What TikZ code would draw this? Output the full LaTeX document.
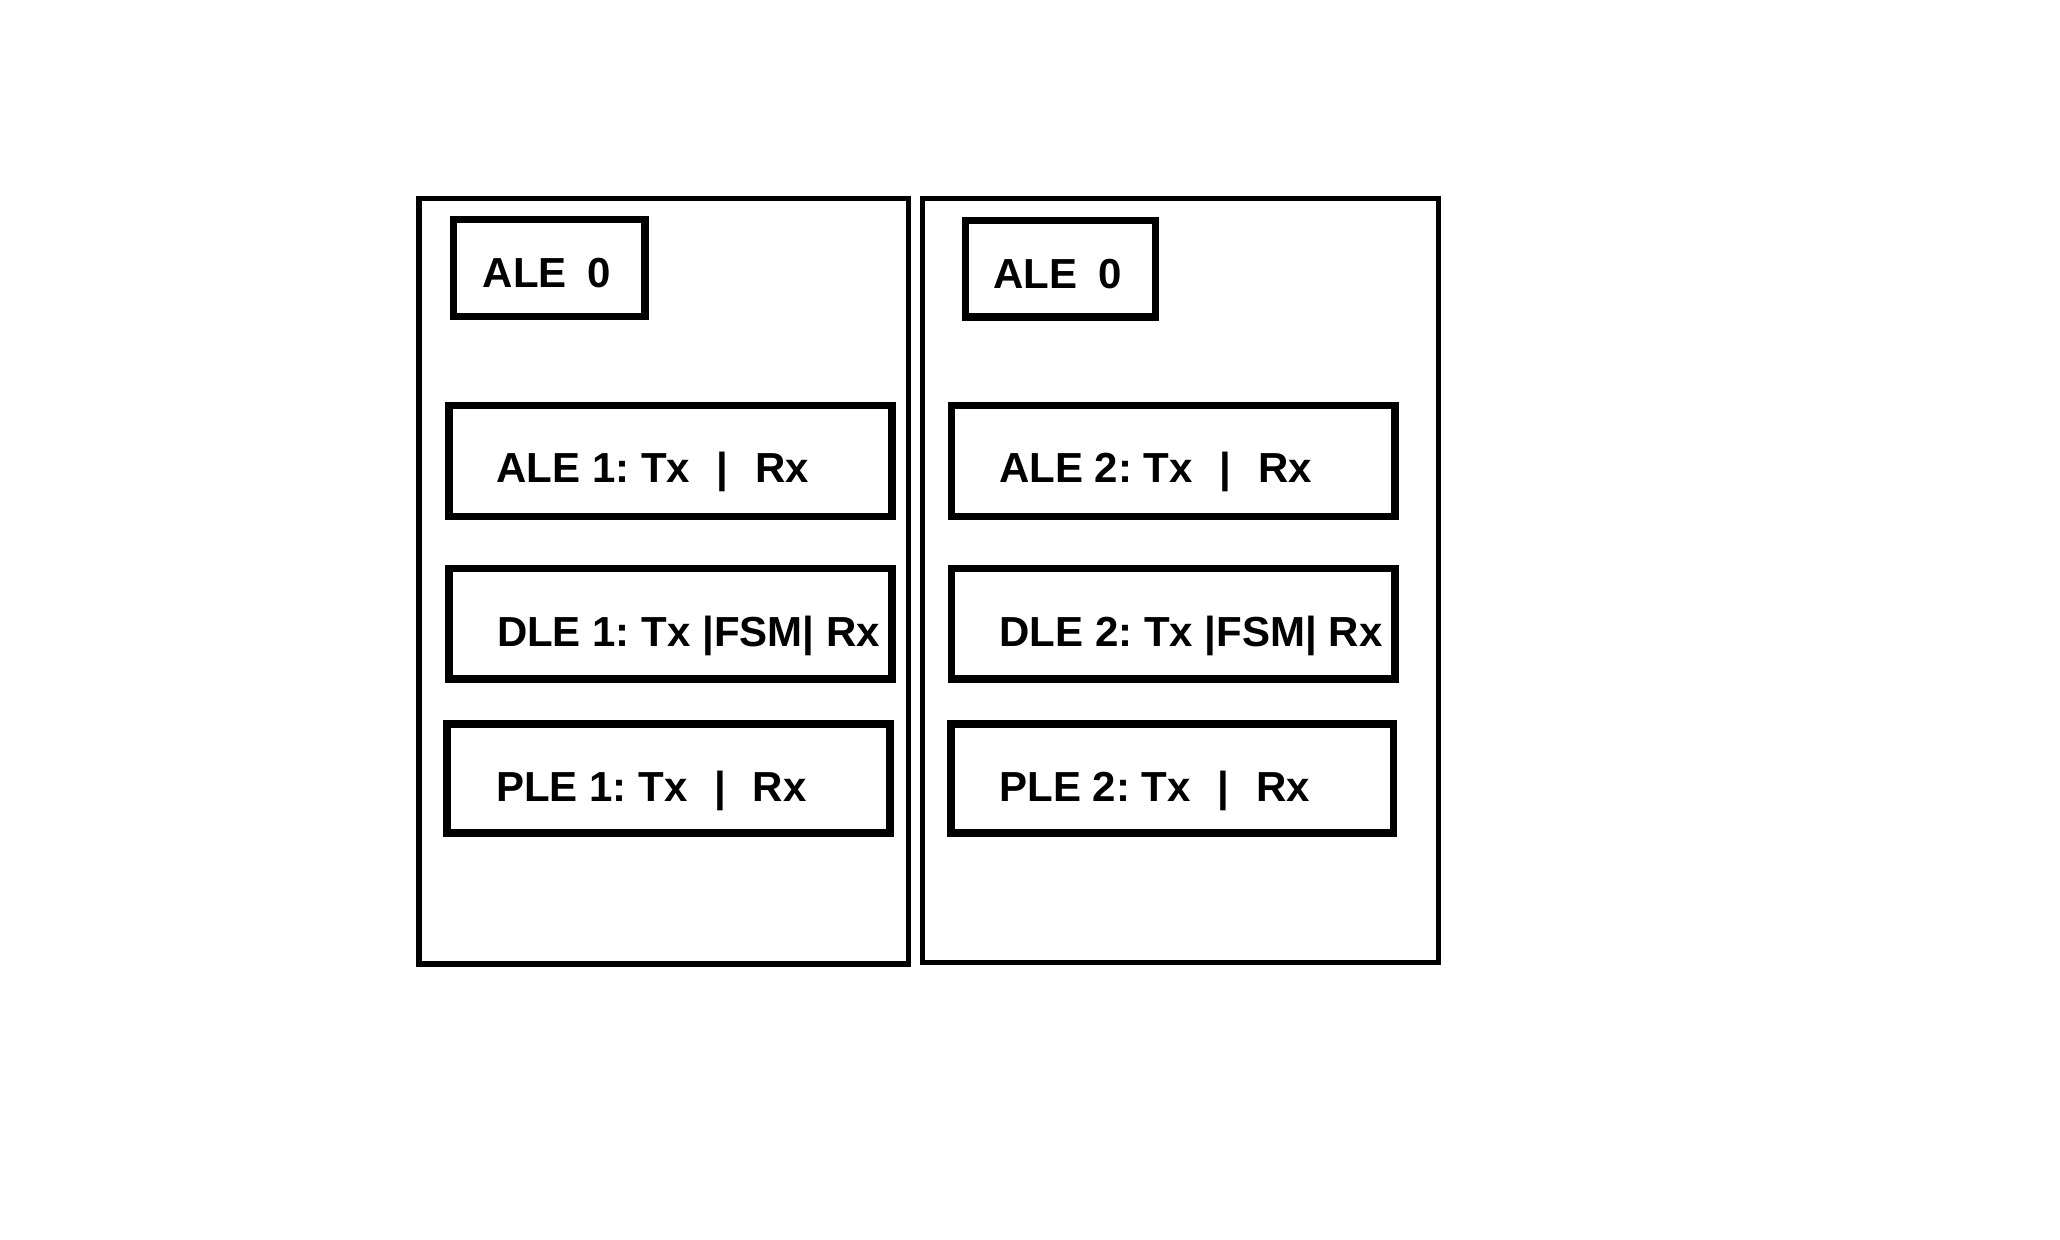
\documentclass[tikz,border=0pt]{standalone}
\usepackage{fontspec}
\setmainfont{Liberation Sans}
\frenchspacing
\newcommand{\barsep}{\hspace{0.64em}|\hspace{0.64em}}
\begin{document}
\begin{tikzpicture}[x=0.5pt,y=-0.5pt,
  outerbox/.style={draw=black,line width=2.6pt,inner sep=0pt,outer sep=0pt,fill=none},
  innerbox/.style={draw=black,line width=3.7pt,inner sep=0pt,outer sep=0pt,fill=none},
  lbl/.style={anchor=base west,inner sep=0pt,outer sep=0pt,font=\fontsize{21pt}{25pt}\selectfont\bfseries}]
\useasboundingbox[fill=white] (0,0) rectangle (2060,1240);
% outer containers
\node[outerbox,minimum width=244.75pt,minimum height=382.7pt] (outL) at (663.75,581.2) {};
\node[outerbox,minimum width=257.85pt,minimum height=382pt] (outR) at (1180.55,580.5) {};
% left column boxes
\node[innerbox,minimum width=95.55pt,minimum height=48.3pt] (ale0L) at (549.25,268) {};
\node[innerbox,minimum width=221.6pt,minimum height=55.3pt] (ale1) at (670.5,461) {};
\node[innerbox,minimum width=221.6pt,minimum height=55.15pt] (dle1) at (670.5,623.85) {};
\node[innerbox,minimum width=221.65pt,minimum height=54.5pt] (ple1) at (668.45,778.5) {};
% right column boxes
\node[innerbox,minimum width=95.2pt,minimum height=48.15pt] (ale0R) at (1060.5,268.85) {};
\node[innerbox,minimum width=221.7pt,minimum height=55.3pt] (ale2) at (1173.4,461) {};
\node[innerbox,minimum width=221.7pt,minimum height=55.15pt] (dle2) at (1173.4,623.85) {};
\node[innerbox,minimum width=221.1pt,minimum height=54.5pt] (ple2) at (1172.1,778.5) {};
% labels
\node[lbl] (tale0L) at (482.7,288) {ALE\hspace{0.5em}0};
\node[lbl] (tale1) at (496.4,483) {ALE 1: Tx\barsep Rx};
\node[lbl] (tdle1) at (497,646) {DLE 1: Tx |FSM| Rx};
\node[lbl] (tple1) at (496,801) {PLE 1: Tx\barsep Rx};
\node[lbl] (tale0R) at (993.6,289) {ALE\hspace{0.5em}0};
\node[lbl] (tale2) at (999.3,483) {ALE 2: Tx\barsep Rx};
\node[lbl] (tdle2) at (999.5,646) {DLE 2: Tx |FSM| Rx};
\node[lbl] (tple2) at (999.5,801) {PLE 2: Tx\barsep Rx};
\end{tikzpicture}
\end{document}
